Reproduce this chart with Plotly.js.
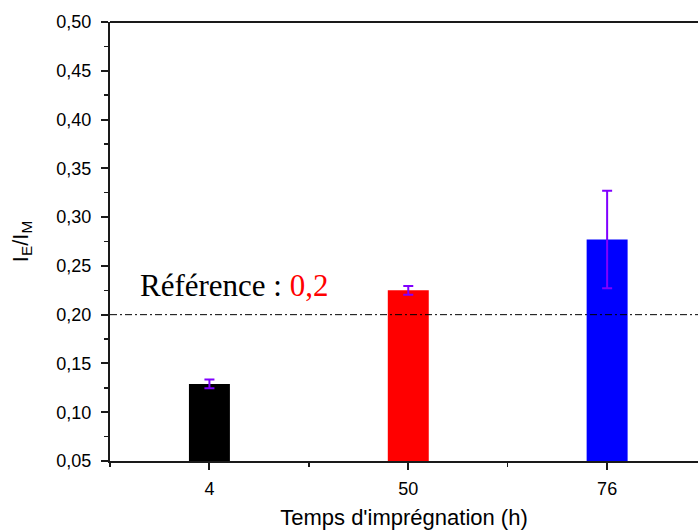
<!DOCTYPE html>
<html>
<head>
<meta charset="utf-8">
<script src="https://cdn.plot.ly/plotly-3.0.1.min.js"></script>
<style>html,body{margin:0;padding:0;background:#fff;overflow:hidden;}</style>
</head>
<body>
<div id="chart" style="width:698px;height:530px;"></div>
<script>
// Data
const categories = ['4', '50', '76'];           // Temps d'imprégnation (h)
const ratios = [0.129, 0.225, 0.277];           // I_E / I_M
const ratioErrors = [0.0045, 0.0045, 0.050];
const barColors = ['#000000', '#ff0000', '#0000ff'];
const referenceValue = 0.2;
const referenceLabel = '0,2';
const yTickValues = [0.05, 0.10, 0.15, 0.20, 0.25, 0.30, 0.35, 0.40, 0.45, 0.50];

const positions = categories.map((c, i) => i);

const trace = {
  type: 'bar',
  x: positions,
  y: ratios,
  width: 0.206,
  marker: { color: barColors, line: { color: barColors, width: 0 } },
  error_y: {
    type: 'data', array: ratioErrors, visible: true,
    color: '#8000ff', thickness: 2, width: 5
  },
  hoverinfo: 'x+y'
};

const axisFont = { family: 'Liberation Sans, Arial, sans-serif', size: 18, color: '#000' };

const layout = {
  width: 698, height: 530,
  margin: { l: 110, r: 0, t: 22, b: 69 },
  paper_bgcolor: '#fff', plot_bgcolor: '#fff',
  separators: ', ',
  showlegend: false,
  font: { family: 'Liberation Sans, Arial, sans-serif', color: '#000' },
  xaxis: {
    range: [-0.5, 2.457],
    tickmode: 'array', tickvals: positions, ticktext: categories,
    ticks: 'outside', ticklen: 7, tickwidth: 2, tickcolor: '#1a1a1a',
    minor: { ticks: 'outside', tick0: 0, dtick: 0.5, ticklen: 4, tickwidth: 1.5, tickcolor: '#1a1a1a' },
    showline: true, linecolor: '#1a1a1a', linewidth: 2,
    showgrid: false, zeroline: false,
    tickfont: axisFont, ticklabelstandoff: 3,
    title: { text: "Temps d'imprégnation (h)", font: { family: 'Liberation Sans, Arial, sans-serif', size: 22, color: '#000' }, standoff: 12 }
  },
  yaxis: {
    range: [0.05, 0.50],
    tickmode: 'array', tickvals: yTickValues, tickformat: '.2f',
    ticks: 'outside', ticklen: 7, tickwidth: 2, tickcolor: '#1a1a1a',
    minor: { ticks: 'outside', tick0: 0.05, dtick: 0.025, ticklen: 4, tickwidth: 1.5, tickcolor: '#1a1a1a' },
    showline: true, linecolor: '#1a1a1a', linewidth: 2,
    showgrid: false, zeroline: false,
    tickfont: axisFont, ticklabelstandoff: 6,
    title: { text: 'I<sub>E</sub>/I<sub>M</sub>', font: { family: 'Liberation Sans, Arial, sans-serif', size: 22, color: '#000' }, standoff: 22 }
  },
  shapes: [
    { type: 'line', xref: 'paper', yref: 'paper', x0: 0, x1: 1, y0: 1, y1: 1,
      line: { color: '#1a1a1a', width: 2 } },
    { type: 'line', xref: 'paper', yref: 'y', x0: 0, x1: 1, y0: referenceValue, y1: referenceValue,
      layer: 'above', line: { color: '#000', width: 1, dash: '7px,3px,2px,3px' } }
  ],
  annotations: [
    { xref: 'x', yref: 'y', x: -0.36, y: 0.2302, xanchor: 'left', yanchor: 'middle', showarrow: false,
      text: 'Référence : <span style="color:#ff0000">' + referenceLabel + '</span>',
      font: { family: 'Liberation Serif, Times New Roman, serif', size: 31, color: '#000' } }
  ]
};

Plotly.newPlot('chart', [trace], layout, { displayModeBar: false, staticPlot: true });
</script>
</body>
</html>
